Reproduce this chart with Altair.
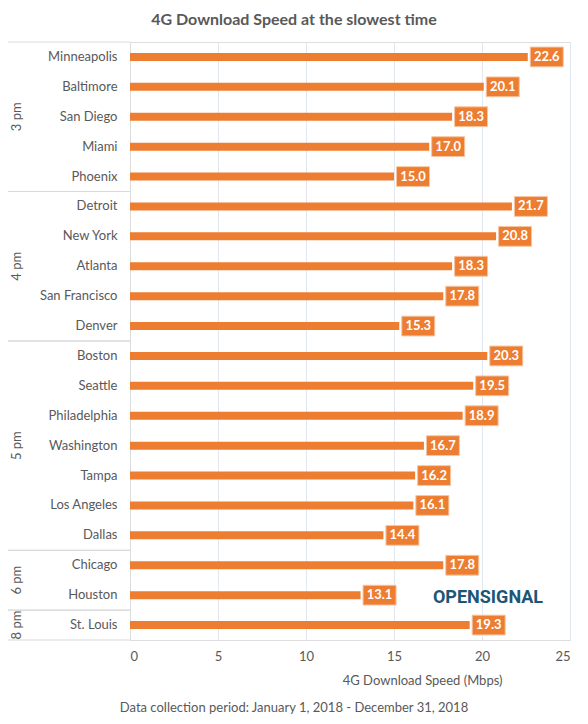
import altair as alt
import pandas as pd

cities = ["Minneapolis", "Baltimore", "San Diego", "Miami", "Phoenix",
          "Detroit", "New York", "Atlanta", "San Francisco", "Denver",
          "Boston", "Seattle", "Philadelphia", "Washington", "Tampa",
          "Los Angeles", "Dallas", "Chicago", "Houston", "St. Louis"]
speeds = [22.6, 20.1, 18.3, 17.0, 15.0,
          21.7, 20.8, 18.3, 17.8, 15.3,
          20.3, 19.5, 18.9, 16.7, 16.2, 16.1, 14.4,
          17.8, 13.1, 19.3]
hours = ["3 pm"] * 5 + ["4 pm"] * 5 + ["5 pm"] * 7 + ["6 pm"] * 2 + ["8 pm"]

group_names = ["3 pm", "4 pm", "5 pm", "6 pm", "8 pm"]
group_first = ["Minneapolis", "Detroit", "Boston", "Chicago", "St. Louis"]
group_last = ["Phoenix", "Denver", "Dallas", "Houston", "St. Louis"]
group_mid_center = ["San Diego", "Atlanta", "Washington", None, "St. Louis"]
group_mid_edge = [None, None, None, "Chicago", None]

title = "4G Download Speed at the slowest time"
x_title = "4G Download Speed (Mbps)"
footer = "Data collection period: January 1, 2018 - December 31, 2018"
logo = "OPENSIGNAL"

FONT = "Lato"
GRAY = "#595959"
ORANGE = "#ED7D31"

df = pd.DataFrame({"city": cities, "speed": speeds, "hour": hours})
groups = pd.DataFrame({"group": group_names, "first": group_first, "last": group_last,
                       "midc": group_mid_center, "mide": group_mid_edge})

yscale = alt.Scale(domain=cities, paddingInner=0, paddingOuter=0)
xscale = alt.Scale(domain=[0, 25], nice=False, padding=0, zero=True)

base = alt.Chart(df)

bars = base.mark_bar(color=ORANGE, size=8).encode(
    x=alt.X("speed:Q", scale=xscale,
            axis=alt.Axis(values=[0, 5, 10, 15, 20, 25], title=x_title,
                          domain=False, ticks=False, labelPadding=10,
                          labelFontSize=13, labelColor=GRAY, labelFont=FONT,
                          titleFont=FONT, titleFontSize=13, titleFontWeight="normal",
                          titleColor=GRAY, titleX=372, titleY=40, titleAlign="right",
                          titleBaseline="middle",
                          grid=True, gridColor="#e1e8f1", gridWidth=1)),
    y=alt.Y("city:N", sort=cities, scale=yscale,
            axis=alt.Axis(title=None, ticks=False, labelPadding=13, labelFontSize=13,
                          labelColor=GRAY, labelFont=FONT, domain=True,
                          domainColor="#dcdcdc", grid=False)),
)

boxes = base.mark_point(
    shape="M-1,-0.6H1V0.6H-1Z", size=1089, filled=True, fill=ORANGE, opacity=1,
    stroke="#f6c6a4", strokeWidth=1, xOffset=19,
).encode(
    x=alt.X("speed:Q", scale=xscale),
    y=alt.Y("city:N", sort=cities, scale=yscale),
)

labels = base.mark_text(
    color="white", fontWeight="bold", fontSize=13, font=FONT, dx=19, align="center",
    baseline="middle",
).encode(
    x=alt.X("speed:Q", scale=xscale),
    y=alt.Y("city:N", sort=cities, scale=yscale),
    text=alt.Text("speed:Q", format=".1f"),
)

gbase = alt.Chart(groups)
sep_top = gbase.mark_rule(color="#d9d9d9", strokeWidth=1).encode(
    y=alt.Y("first:N", sort=cities, scale=yscale, bandPosition=0),
    x=alt.value(-122), x2=alt.value(0),
)
sep_bottom = gbase.mark_rule(color="#d9d9d9", strokeWidth=1).encode(
    y=alt.Y("last:N", sort=cities, scale=yscale, bandPosition=1),
    x=alt.value(-122), x2=alt.value(0),
)
glabel_c = gbase.transform_filter("datum.midc != null").mark_text(
    angle=270, fontSize=13, font=FONT, color=GRAY, align="center", baseline="middle",
).encode(
    y=alt.Y("midc:N", sort=cities, scale=yscale, bandPosition=0.5),
    x=alt.value(-113), text="group:N",
)
glabel_e = gbase.transform_filter("datum.mide != null").mark_text(
    angle=270, fontSize=13, font=FONT, color=GRAY, align="center", baseline="middle",
).encode(
    y=alt.Y("mide:N", sort=cities, scale=yscale, bandPosition=1),
    x=alt.value(-113), text="group:N",
)

foot = alt.Chart(pd.DataFrame({"t": [footer]})).mark_text(
    fontSize=13, font=FONT, color=GRAY, align="center", baseline="middle",
).encode(x=alt.value(164), y=alt.value(666), text="t:N")

logo_t = alt.Chart(pd.DataFrame({"t": [logo]})).mark_text(
    fontSize=18, font="Roboto", fontWeight="bold", color="#1d5577", align="center",
    baseline="middle",
).encode(x=alt.value(358), y=alt.value(556), text="t:N")

chart = alt.layer(
    bars, boxes, labels, sep_top, sep_bottom, glabel_c, glabel_e, foot, logo_t
).properties(
    width=440, height=598,
    title=alt.TitleParams(title, fontSize=16, font=FONT, fontWeight="bold", color=GRAY,
                          anchor="middle", dx=-56, offset=14),
    autosize=alt.AutoSizeParams(type="none"),
    padding={"left": 122, "top": 34, "right": 8, "bottom": 76},
).configure_view(stroke=None).configure(background="white")

chart.save("out.html", embed_options={"renderer": "svg", "actions": False})
